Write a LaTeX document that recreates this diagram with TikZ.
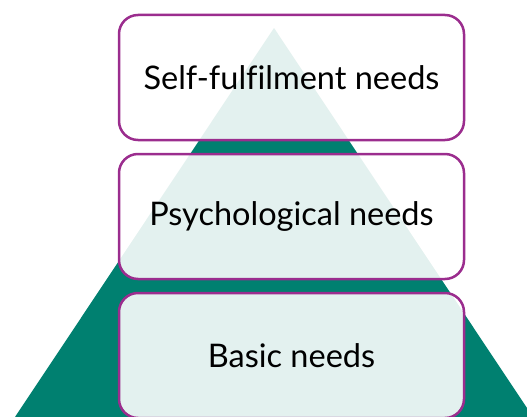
\documentclass[tikz,border=0pt]{standalone}
\usepackage{fontspec}
\setmainfont[Ligatures=NoCommon]{Lato}
\usetikzlibrary{positioning}
\definecolor{pyrteal}{RGB}{0,128,112}
\definecolor{pyrpurple}{RGB}{155,45,142}

\tikzset{
  level/.style={draw=pyrpurple, line width=2.5pt, rounded corners=19pt,
    fill=white, fill opacity=0.89, text opacity=1,
    minimum width=345pt, minimum height=125pt, outer sep=0pt,
    font=\fontsize{32.5}{38}\selectfont}
}

\begin{document}
\begin{tikzpicture}[x=1pt,y=1pt]
\useasboundingbox (0,0) rectangle (527,416);

% Pyramid behind the boxes
\begin{scope}
  \clip (0,0) rectangle (527,416);
  \fill[pyrteal] (274,388) -- (535,-4) -- (13,-4) -- cycle;
\end{scope}

% Levels, top to bottom
\node[level] (self) at (291.5,338.5) {Self-fulfilment needs};
\node[level, below=14pt of self] (psych) {Psychological needs};
\node[level, below=14pt of psych] (basic) {Basic needs};

\end{tikzpicture}
\end{document}
